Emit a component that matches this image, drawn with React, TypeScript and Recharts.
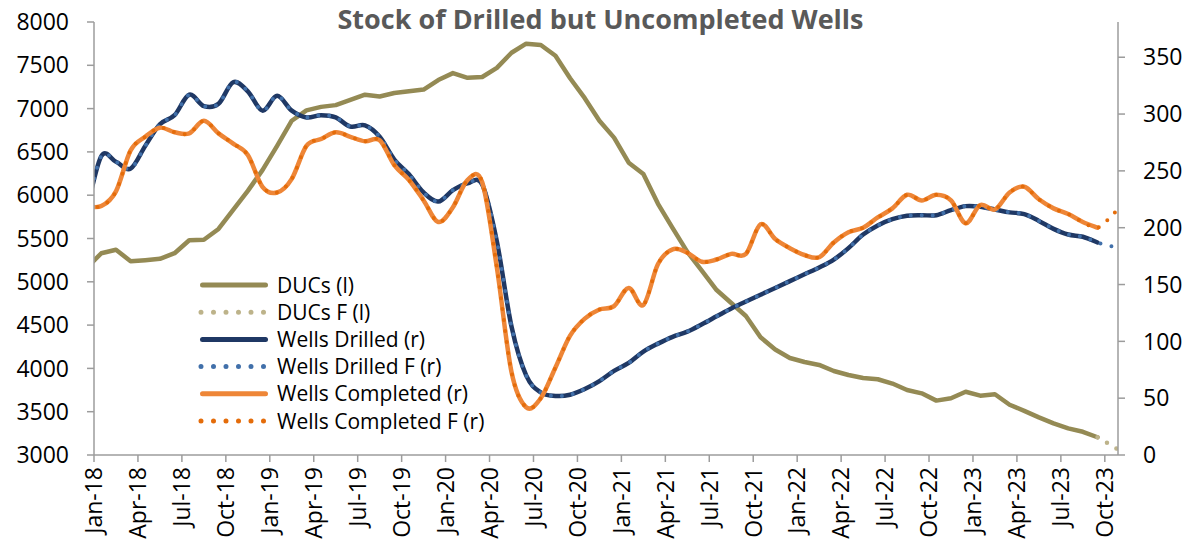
import React from 'react';
import { LineChart, Line, XAxis, YAxis } from 'recharts';

// Monthly observations, Dec-17 .. Nov-23 (plotted at mid-month)
const months = [
  'Dec-17',
  'Jan-18','Feb-18','Mar-18','Apr-18','May-18','Jun-18','Jul-18','Aug-18','Sep-18','Oct-18','Nov-18','Dec-18',
  'Jan-19','Feb-19','Mar-19','Apr-19','May-19','Jun-19','Jul-19','Aug-19','Sep-19','Oct-19','Nov-19','Dec-19',
  'Jan-20','Feb-20','Mar-20','Apr-20','May-20','Jun-20','Jul-20','Aug-20','Sep-20','Oct-20','Nov-20','Dec-20',
  'Jan-21','Feb-21','Mar-21','Apr-21','May-21','Jun-21','Jul-21','Aug-21','Sep-21','Oct-21','Nov-21','Dec-21',
  'Jan-22','Feb-22','Mar-22','Apr-22','May-22','Jun-22','Jul-22','Aug-22','Sep-22','Oct-22','Nov-22','Dec-22',
  'Jan-23','Feb-23','Mar-23','Apr-23','May-23','Jun-23','Jul-23','Aug-23','Sep-23','Oct-23','Nov-23',
];

const ducs = [
  5160,
  5330, 5370, 5238, 5250, 5265, 5330, 5480, 5485, 5610, 5830, 6050, 6290,
  6570, 6860, 6980, 7020, 7040, 7100, 7160, 7140, 7180, 7200, 7220, 7330,
  7410, 7355, 7365, 7470, 7645, 7750, 7735, 7610, 7350, 7120, 6860, 6665,
  6375, 6245, 5900, 5620, 5345, 5126, 4905, 4755, 4605, 4360, 4218, 4120,
  4074, 4040, 3970, 3924, 3890, 3875, 3825, 3750, 3712, 3628, 3655, 3730,
  3685, 3702, 3580, 3510, 3435, 3365, 3308, 3268, 3205, null, null,
];
const ducsF = [
  null,
  null, null, null, null, null, null, null, null, null, null, null, null,
  null, null, null, null, null, null, null, null, null, null, null, null,
  null, null, null, null, null, null, null, null, null, null, null, null,
  null, null, null, null, null, null, null, null, null, null, null, null,
  null, null, null, null, null, null, null, null, null, null, null, null,
  null, null, null, null, null, null, null, null, 3205, 3105, 3000,
];
const wellsDrilled = [
  215,
  263, 258, 252, 272, 291, 299, 317, 307, 309, 328, 320, 303,
  316, 303, 297, 299, 297, 289, 290, 280, 260, 247, 231, 223,
  233, 239, 238, 188, 113, 70, 55, 52, 53, 58, 65, 74,
  81, 91, 98, 104, 108.5, 115, 122, 129, 135, 141, 147, 153,
  159, 165, 172, 182, 194, 202, 207.5, 210.5, 211, 211, 215.5, 219,
  218.5, 216, 213.5, 212, 206, 199, 194, 192, 187, null, null,
];
const wellsDrilledF = [
  215,
  263, 258, 252, 272, 291, 299, 317, 307, 309, 328, 320, 303,
  316, 303, 297, 299, 297, 289, 290, 280, 260, 247, 231, 223,
  233, 239, 238, 188, 113, 70, 55, 52, 53, 58, 65, 74,
  81, 91, 98, 104, 108.5, 115, 122, 129, 135, 141, 147, 153,
  159, 165, 172, 182, 194, 202, 207.5, 210.5, 211, 211, 215.5, 219,
  218.5, 216, 213.5, 212, 206, 199, 194, 192, 187, 183.5, null,
];
const wellsCompleted = [
  219,
  219, 232, 268, 280, 288, 284, 283, 294, 283, 274, 264, 236,
  231, 243, 272, 278, 284, 280, 276, 277, 255, 242, 224, 205,
  218, 242, 240, 165, 73, 42, 50, 77, 105, 120, 128, 131,
  147, 132, 168, 181, 178, 170, 172, 177, 177, 203, 190, 182,
  176, 174, 187, 196, 200, 209, 217, 229, 224, 229, 224, 204,
  220, 216, 231, 236, 225, 217, 212, 205, 200, null, null,
];
const wellsCompletedF = [
  219,
  219, 232, 268, 280, 288, 284, 283, 294, 283, 274, 264, 236,
  231, 243, 272, 278, 284, 280, 276, 277, 255, 242, 224, 205,
  218, 242, 240, 165, 73, 42, 50, 77, 105, 120, 128, 131,
  147, 132, 168, 181, 178, 170, 172, 177, 177, 203, 190, 182,
  176, 174, 187, 196, 200, 209, 217, 229, 224, 229, 224, 204,
  220, 216, 231, 236, 225, 217, 212, 205, 200, 211, 225,
];

const xTickLabels = [
  'Jan-18','Apr-18','Jul-18','Oct-18','Jan-19','Apr-19','Jul-19','Oct-19',
  'Jan-20','Apr-20','Jul-20','Oct-20','Jan-21','Apr-21','Jul-21','Oct-21',
  'Jan-22','Apr-22','Jul-22','Oct-22','Jan-23','Apr-23','Jul-23','Oct-23',
];
const leftTicks = [3000, 3500, 4000, 4500, 5000, 5500, 6000, 6500, 7000, 7500, 8000];
const rightTicks = [0, 50, 100, 150, 200, 250, 300, 350];

const COLORS = {
  duc: '#948A54',
  ducF: '#BDB38A',
  drilled: '#1F3864',
  drilledF: '#4170AA',
  completed: '#EE8637',
  completedF: '#E46C0A',
};

// month index where Jan-18 starts at 0; each observation sits mid-month
const data = months.map((m, i) => ({
  month: m,
  x: i - 1 + 0.5,
  duc: ducs[i],
  ducF: ducsF[i],
  drilled: wellsDrilled[i],
  drilledF: wellsDrilledF[i],
  completed: wellsCompleted[i],
  completedF: wellsCompletedF[i],
}));

const xTickValues = xTickLabels.map((_, i) => i * 3);

// Excel-like smoothing (uniform Catmull-Rom) as a d3 curve factory
const smoothCurve: any = (context: any) => {
  let pts: number[][] = [];
  return {
    areaStart() {},
    areaEnd() {},
    lineStart() {
      pts = [];
    },
    point(x: number, y: number) {
      pts.push([+x, +y]);
    },
    lineEnd() {
      const n = pts.length;
      if (!n) return;
      context.moveTo(pts[0][0], pts[0][1]);
      if (n === 1) return;
      for (let i = 0; i < n - 1; i++) {
        const p0 = pts[i - 1] || pts[i];
        const p1 = pts[i];
        const p2 = pts[i + 1];
        const p3 = pts[i + 2] || pts[i + 1];
        const c1x = p1[0] + (p2[0] - p0[0]) / 6;
        const c1y = p1[1] + (p2[1] - p0[1]) / 6;
        const c2x = p2[0] - (p3[0] - p1[0]) / 6;
        const c2y = p2[1] - (p3[1] - p1[1]) / 6;
        context.bezierCurveTo(c1x, c1y, c2x, c2y, p2[0], p2[1]);
      }
    },
  };
};

const FONT = '"Open Sans", "Noto Sans", sans-serif';
const AXIS = '#9C9C9C';

const XTick = (props: any) => {
  const { x, y, payload } = props;
  const idx = xTickValues.indexOf(payload.value);
  return (
    <text
      transform={`translate(${x},${y}) rotate(-90)`}
      textAnchor="end"
      dy="0.36em"
      fontSize={23}
      fontFamily={FONT}
      fill="#000"
    >
      {idx >= 0 ? xTickLabels[idx] : ''}
    </text>
  );
};

const legendItems = [
  { name: 'DUCs (l)', color: COLORS.duc, dotted: false },
  { name: 'DUCs F (l)', color: COLORS.ducF, dotted: true },
  { name: 'Wells Drilled (r)', color: COLORS.drilled, dotted: false },
  { name: 'Wells Drilled F (r)', color: COLORS.drilledF, dotted: true },
  { name: 'Wells Completed (r)', color: COLORS.completed, dotted: false },
  { name: 'Wells Completed F (r)', color: COLORS.completedF, dotted: true },
];

export default function App() {
  return (
    <div style={{ position: 'absolute', left: 0, top: 0, width: 1195, height: 545, background: '#fff' }}>
      <LineChart
        width={1195}
        height={545}
        data={data}
        margin={{ top: 22, right: 0, bottom: 0, left: 0 }}
        style={{ fontFamily: FONT }}
      >
        <XAxis
          dataKey="x"
          type="number"
          domain={[0, 69.9]}
          allowDataOverflow
          ticks={xTickValues}
          interval={0}
          height={90}
          tickSize={7}
          tickMargin={5}
          tick={<XTick />}
          axisLine={{ stroke: AXIS, strokeWidth: 1.5 }}
          tickLine={{ stroke: AXIS, strokeWidth: 1.5 }}
        />
        <YAxis
          yAxisId="l"
          orientation="left"
          width={94}
          domain={[3000, 8000]}
          ticks={leftTicks}
          interval={0}
          allowDataOverflow
          tickSize={7}
          tickMargin={18}
          tick={{ fontSize: 23, fill: '#000', fontFamily: FONT }}
          axisLine={{ stroke: AXIS, strokeWidth: 1.5 }}
          tickLine={{ stroke: AXIS, strokeWidth: 1.5 }}
        />
        <YAxis
          yAxisId="r"
          orientation="right"
          width={77}
          domain={[0, 381]}
          ticks={rightTicks}
          interval={0}
          allowDataOverflow
          tickSize={7}
          tickMargin={18}
          tick={{ fontSize: 23, fill: '#000', fontFamily: FONT, textAnchor: 'start' }}
          axisLine={{ stroke: AXIS, strokeWidth: 1.5 }}
          tickLine={{ stroke: AXIS, strokeWidth: 1.5 }}
        />
        <Line
          yAxisId="l"
          dataKey="duc"
          type="linear"
          stroke={COLORS.duc}
          strokeWidth={4.5}
          strokeLinecap="round"
          strokeLinejoin="round"
          dot={false}
          activeDot={false}
          isAnimationActive={false}
        />
        <Line
          yAxisId="l"
          dataKey="ducF"
          type="linear"
          stroke={COLORS.ducF}
          strokeWidth={4.5}
          strokeDasharray="0 11"
          strokeLinecap="round"
          dot={false}
          activeDot={false}
          isAnimationActive={false}
        />
        <Line
          yAxisId="r"
          dataKey="drilled"
          type={smoothCurve}
          stroke={COLORS.drilled}
          strokeWidth={4.5}
          strokeLinecap="round"
          dot={false}
          activeDot={false}
          isAnimationActive={false}
        />
        <Line
          yAxisId="r"
          dataKey="drilledF"
          type={smoothCurve}
          stroke={COLORS.drilledF}
          strokeWidth={4}
          strokeDasharray="0 11"
          strokeLinecap="round"
          dot={false}
          activeDot={false}
          isAnimationActive={false}
        />
        <Line
          yAxisId="r"
          dataKey="completed"
          type={smoothCurve}
          stroke={COLORS.completed}
          strokeWidth={4.5}
          strokeLinecap="round"
          dot={false}
          activeDot={false}
          isAnimationActive={false}
        />
        <Line
          yAxisId="r"
          dataKey="completedF"
          type={smoothCurve}
          stroke={COLORS.completedF}
          strokeWidth={4}
          strokeDasharray="0 11"
          strokeLinecap="round"
          dot={false}
          activeDot={false}
          isAnimationActive={false}
        />
      </LineChart>
      <svg
        width={1195}
        height={545}
        style={{ position: 'absolute', left: 0, top: 0, pointerEvents: 'none' }}
      >
        <text
          x={600.5}
          y={28.5}
          textAnchor="middle"
          fontFamily={FONT}
          fontWeight={700}
          fontSize={27}
          fill="#595959"
        >
          Stock of Drilled but Uncompleted Wells
        </text>
        {legendItems.map((it, k) => {
          const cy = 285 + k * 27.2;
          return (
            <g key={it.name}>
              {it.dotted ? (
                <line
                  x1={201}
                  x2={264}
                  y1={cy}
                  y2={cy}
                  stroke={it.color}
                  strokeWidth={5}
                  strokeLinecap="round"
                  strokeDasharray="0 12.5"
                />
              ) : (
                <line
                  x1={202.5}
                  x2={265.5}
                  y1={cy}
                  y2={cy}
                  stroke={it.color}
                  strokeWidth={5}
                  strokeLinecap="round"
                />
              )}
              <text x={277} y={cy} dy="0.36em" fontFamily={FONT} fontSize={21} fill="#000">
                {it.name}
              </text>
            </g>
          );
        })}
      </svg>
    </div>
  );
}
